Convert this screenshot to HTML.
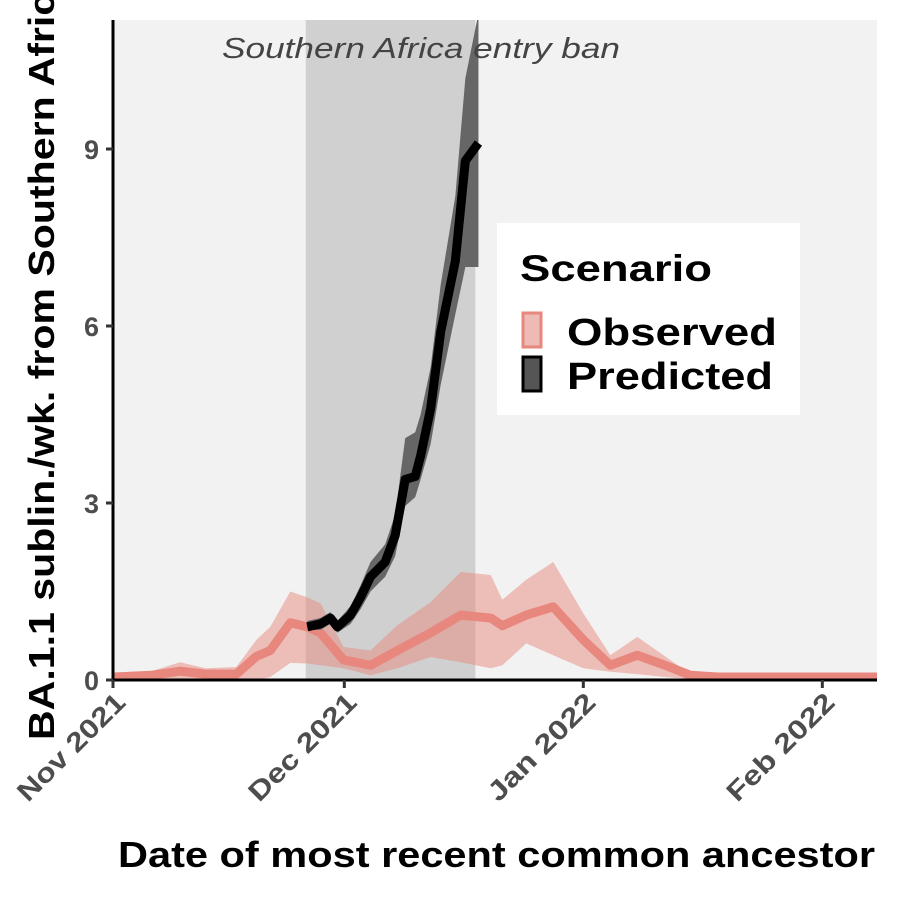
<!DOCTYPE html>
<html><head><meta charset="utf-8"><style>
body{margin:0;background:#fff;}
svg{display:block;font-family:"Liberation Sans",Arial,sans-serif;}
</style></head><body>
<svg id="c" width="900" height="900">
<rect x="0" y="0" width="900" height="900" fill="#fff"/>
<rect x="113" y="20" width="764" height="660" fill="#f2f2f2"/>
<g id="marks"></g>
<g id="axes"></g>
<text x="222" y="58" textLength="398" lengthAdjust="spacingAndGlyphs" font-style="italic" font-size="29" fill="#444">Southern Africa entry ban</text>
<g>
<rect x="497" y="223" width="303" height="192" fill="#fff"/>
<text x="520" y="281" textLength="192" lengthAdjust="spacingAndGlyphs" font-size="37" font-weight="bold" fill="#000">Scenario</text>
<g>
<rect x="523" y="313" width="18" height="34" fill="#edbab5" stroke="#e8877e" stroke-width="3"/>
<text x="567" y="345" textLength="210" lengthAdjust="spacingAndGlyphs" font-size="38" font-weight="bold">Observed</text></g>
<g>
<rect x="523" y="357" width="18" height="34" fill="#555" stroke="#000" stroke-width="3"/>
<text x="567" y="389" textLength="206" lengthAdjust="spacingAndGlyphs" font-size="38" font-weight="bold">Predicted</text></g>
</g>
<text transform="translate(54,740) rotate(-90)" textLength="770" lengthAdjust="spacingAndGlyphs" font-size="36" font-weight="bold">BA.1.1 sublin./wk. from Southern Africa</text>
<text x="118" y="867" textLength="757" lengthAdjust="spacingAndGlyphs" font-size="36" font-weight="bold">Date of most recent common ancestor</text>
</svg>
<script>
const obsDays=[0,5,8.7,12,16,18.6,20.4,23,25.2,26.9,29.9,33.4,36.9,41.2,45.1,49,50.5,53.6,57.1,61,64.5,68,71.6,74.9,78.4,82,100];
const obsMed=[0.05,0.08,0.15,0.1,0.1,0.4,0.5,0.97,0.9,0.8,0.34,0.25,0.5,0.8,1.1,1.05,0.92,1.1,1.24,0.68,0.25,0.42,0.25,0.08,0.05,0.05,0.05];
const obsLo=[0,0,0,0,0,0,0.05,0.29,0.28,0.25,0.2,0.08,0.2,0.39,0.3,0.2,0.25,0.62,0.42,0.2,0.14,0.1,0.05,0.02,0,0,0];
const obsHi=[0.1,0.15,0.3,0.2,0.22,0.68,0.9,1.5,1.4,1.3,0.56,0.5,0.93,1.32,1.83,1.78,1.36,1.7,2.0,1.13,0.42,0.73,0.4,0.1,0.05,0.05,0.05];
const predDays=[25.2,26.9,28.2,29.1,30.8,32.1,33.4,35.3,36.6,37.9,39.2,39.9,41.2,42.5,44.4,45.7,47.4];
const predMed=[0.9,0.95,1.05,0.9,1.1,1.4,1.75,2.0,2.45,3.4,3.45,3.8,4.6,5.9,7.1,8.8,9.1];
const predLo=[0.85,0.85,0.95,0.8,0.95,1.2,1.5,1.75,2.1,2.95,3.1,3.4,4.0,5.0,6.2,7.0,7.0];
const predHi=[1.0,1.05,1.15,1.0,1.25,1.6,2.0,2.3,2.8,4.1,4.2,4.5,5.3,6.7,8.2,10.2,11.3];
const xTicks=["Nov 2021","Dec 2021","Jan 2022","Feb 2022"];
const xTickDays=[0,30,61,92];
const yTicks=[0,3,6,9];
const banStart=25, banEnd=47;
const X=d=>113+d*7.71, Y=v=>680-v*59;
const NS="http://www.w3.org/2000/svg";
const marks=document.getElementById('marks'), axes=document.getElementById('axes');
function mk(p,tag,a){const e=document.createElementNS(NS,tag);for(const k in a)e.setAttribute(k,a[k]);p.appendChild(e);return e;}
const ban=mk(marks,'rect',{x:X(banStart),y:20,width:X(banEnd)-X(banStart),height:660,fill:'#d0d0d0'});


function band(ds,lo,hi){let p=ds.map((d,i)=>X(d)+','+Y(hi[i]));for(let i=ds.length-1;i>=0;i--)p.push(X(ds[i])+','+Y(lo[i]));return p.join(' ');}
function line(ds,v){return ds.map((d,i)=>X(d)+','+Y(v[i])).join(' ');}
const clip=mk(marks,'clipPath',{id:'pc'});mk(clip,'rect',{x:113,y:20,width:764,height:660});
const g=mk(marks,'g',{'clip-path':'url(#pc)'});
const ob=mk(g,'polygon',{points:band(obsDays,obsLo,obsHi),fill:'#e8877e','fill-opacity':0.5});


const ol=mk(g,'polyline',{points:line(obsDays,obsMed),fill:'none',stroke:'#e8877e','stroke-width':9,'stroke-linejoin':'round'});


const pb=mk(g,'polygon',{points:band(predDays,predLo,predHi),fill:'#666'});


const pl=mk(g,'polyline',{points:line(predDays,predMed),fill:'none',stroke:'#000','stroke-width':9,'stroke-linejoin':'round'});


const xa=mk(axes,'line',{x1:112,y1:680,x2:877,y2:680,stroke:'#000','stroke-width':3});


const ya=mk(axes,'line',{x1:113,y1:20,x2:113,y2:681,stroke:'#000','stroke-width':3});


yTicks.forEach(v=>{mk(axes,'line',{x1:106,y1:Y(v),x2:113,y2:Y(v),stroke:'#333','stroke-width':3});
const t=mk(axes,'text',{x:99,y:Y(v)+10,'text-anchor':'end','font-size':27,'font-weight':'bold',fill:'#4d4d4d'});t.textContent=v;

});
xTicks.forEach((s,i)=>{const x=X(xTickDays[i]);mk(axes,'line',{x1:x,y1:680,x2:x,y2:688,stroke:'#333','stroke-width':3});
const t=mk(axes,'text',{transform:`translate(${x+14},${704}) rotate(-45)`,'text-anchor':'end','font-size':27,'font-weight':'bold',fill:'#4d4d4d',textLength:140,lengthAdjust:'spacingAndGlyphs'});t.textContent=s;

});
</script>
</body></html>
